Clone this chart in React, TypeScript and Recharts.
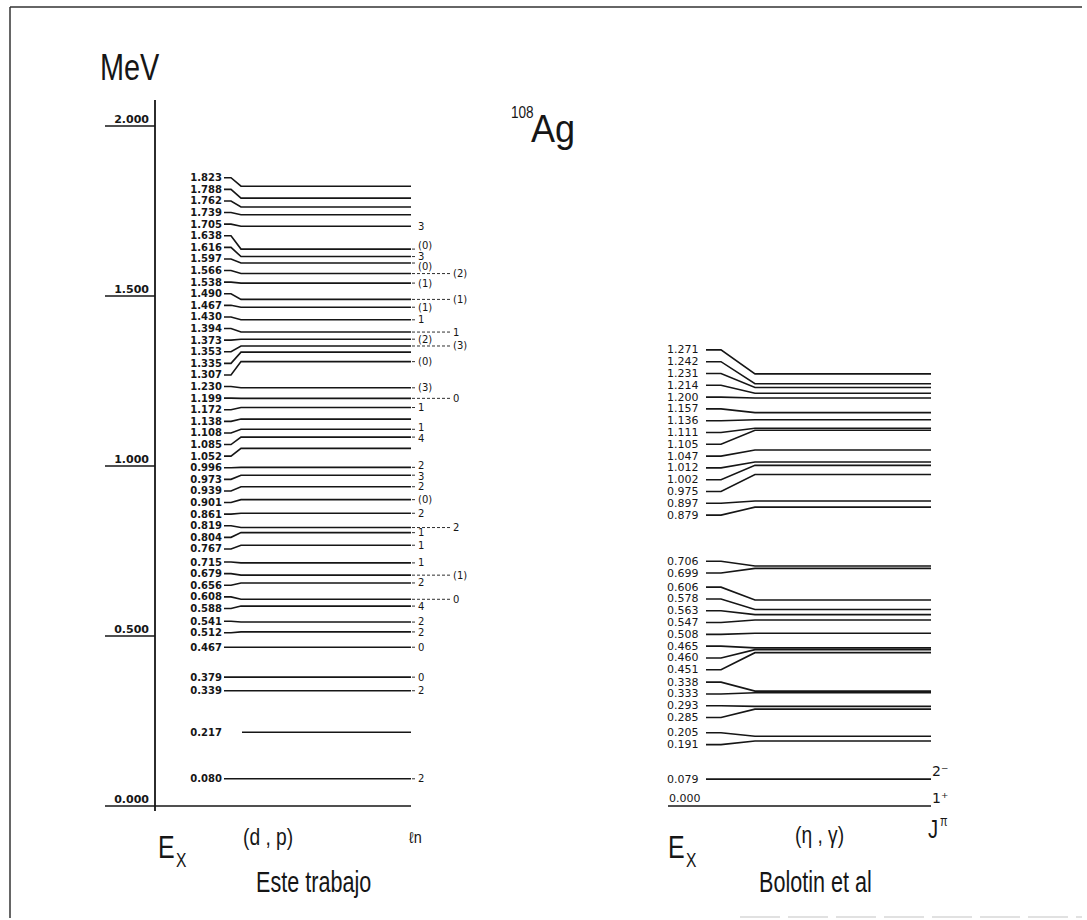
import React from "react";
import { ComposedChart, Line, Scatter, XAxis, YAxis } from "recharts";

// 108Ag level scheme: this work (d,p) vs Bolotin et al (n,gamma)
const energyTicks = [0, 0.5, 1.0, 1.5, 2.0];

const dpLevels = [
  1.823, 1.788, 1.762, 1.739, 1.705, 1.638, 1.616, 1.597, 1.566, 1.538,
  1.49, 1.467, 1.43, 1.394, 1.373, 1.353, 1.335, 1.307, 1.23, 1.199,
  1.172, 1.138, 1.108, 1.085, 1.052, 0.996, 0.973, 0.939, 0.901, 0.861,
  0.819, 0.804, 0.767, 0.715, 0.679, 0.656, 0.608, 0.588, 0.541, 0.512,
  0.467, 0.379, 0.339, 0.217, 0.08,
];
const dpLn = [
  "", "", "", "", "3", "(0)", "3", "(0)", "(2)", "(1)",
  "(1)", "(1)", "1", "1", "(2)", "(3)", "", "(0)", "(3)", "0",
  "1", "", "1", "4", "", "2", "3", "2", "(0)", "2",
  "2", "1", "1", "1", "(1)", "2", "0", "4", "2", "2",
  "0", "0", "2", "", "2",
];
// ln values written in the outer column
const outerLn = [1.566, 1.49, 1.394, 1.353, 1.199, 0.819, 0.679, 0.608];

const ngLevels = [
  1.271, 1.242, 1.231, 1.214, 1.2, 1.157, 1.136, 1.111, 1.105, 1.047,
  1.012, 1.002, 0.975, 0.897, 0.879, 0.706, 0.699, 0.606, 0.578, 0.563,
  0.547, 0.508, 0.465, 0.46, 0.451, 0.338, 0.333, 0.293, 0.285, 0.205,
  0.191, 0.079,
];
const spinLevels = [0.079, 0.0];
const spinLabels = ["2\u207B", "1\u207A"];

const W = 1087;
const H = 920;
const PX_PER_MEV = 340;
const INK = "#161616";
const NUM_FONT = "DejaVu Sans, Verdana, sans-serif";
const HAND_FONT = "Liberation Sans, Arial, sans-serif";

// push labels apart (least squares with a minimum gap, pool adjacent violators)
function spreadLabels(levels: number[], gap: number): number[] {
  const z = levels.map((e, i) => -e - i * gap);
  const blocks: { sum: number; n: number }[] = [];
  for (const v of z) {
    blocks.push({ sum: v, n: 1 });
    while (blocks.length > 1) {
      const b = blocks[blocks.length - 1];
      const a = blocks[blocks.length - 2];
      if (a.sum / a.n <= b.sum / b.n) break;
      a.sum += b.sum;
      a.n += b.n;
      blocks.pop();
    }
  }
  const w: number[] = [];
  blocks.forEach((b) => {
    for (let k = 0; k < b.n; k++) w.push(b.sum / b.n);
  });
  return w.map((v, i) => -(v + i * gap));
}

const dpLabelAt = spreadLabels(dpLevels, 11.6 / PX_PER_MEV);
const ngLabelAt = spreadLabels(ngLevels, 11.8 / PX_PER_MEV);

// ln labels: inner and outer columns, each nudged apart a little
const lnInner = dpLevels.filter((e, i) => dpLn[i] && !outerLn.includes(e));
const lnInnerAt = spreadLabels(lnInner, 10.5 / PX_PER_MEV);

const AxisTick = (props: any) => {
  const { x, y, payload } = props;
  return (
    <g>
      <line x1={x - 50} x2={x} y1={y} y2={y} stroke={INK} strokeWidth={1.5} />
      <text x={x - 6} y={y - 3} textAnchor="end" fontSize={11} fontWeight="bold" fontFamily={NUM_FONT} fill={INK}>
        {payload.value.toFixed(3)}
      </text>
    </g>
  );
};

const textShape = (anchor: string, size: number, weight: string, dy = 0) => (p: any) => (
  <text
    x={p.cx}
    y={p.cy + dy}
    textAnchor={anchor}
    dominantBaseline={dy === 0 ? "central" : "auto"}
    fontSize={size}
    fontWeight={weight}
    fontFamily={NUM_FONT}
    fill={INK}
  >
    {p.payload.text}
  </text>
);

function NText({ x, y, size, sx = 0.78, children }: any) {
  return (
    <text transform={`translate(${x} ${y}) scale(${sx} 1)`} fontSize={size} fontFamily={HAND_FONT} fill={INK}>
      {children}
    </text>
  );
}

export default function App() {
  const series: React.ReactNode[] = [];

  dpLevels.forEach((e, i) => {
    const lab = dpLabelAt[i];
    const pts =
      e === 0.217
        ? [{ x: 242, y: e }, { x: 411, y: e }]
        : [{ x: 224, y: lab }, { x: 231, y: lab }, { x: 241, y: e }, { x: 411, y: e }];
    series.push(
      <Line key={`dp${i}`} data={pts} dataKey="y" type="linear" stroke={INK} strokeWidth={1.6} dot={false} isAnimationActive={false} />
    );
    if (dpLn[i] && e !== 1.705) {
      const far = outerLn.includes(e);
      series.push(
        <Line
          key={`ln${i}`}
          data={[{ x: 412, y: e }, { x: far ? 451 : 416, y: e }]}
          dataKey="y"
          stroke={INK}
          strokeWidth={0.9}
          strokeDasharray="3 2"
          dot={false}
          isAnimationActive={false}
        />
      );
    }
  });

  ngLevels.forEach((e, i) => {
    const lab = ngLabelAt[i];
    const pts = [{ x: 706, y: lab }, { x: 721, y: lab }, { x: 755, y: e }, { x: 931, y: e }];
    series.push(
      <Line key={`ng${i}`} data={pts} dataKey="y" type="linear" stroke={INK} strokeWidth={1.6} dot={false} isAnimationActive={false} />
    );
  });

  const dpText = dpLevels.map((e, i) => ({ x: 222, y: dpLabelAt[i], text: e.toFixed(3) }));
  const lnText = dpLevels
    .map((e, i) => {
      const far = outerLn.includes(e);
      const k = lnInner.indexOf(e);
      return { x: far ? 453 : 418, y: far || k < 0 ? e : lnInnerAt[k], text: dpLn[i] };
    })
    .filter((d) => d.text);
  const ngText = ngLevels.map((e, i) => ({ x: 667, y: ngLabelAt[i], text: e.toFixed(3) }));
  const spinText = spinLevels.map((e, i) => ({ x: 932, y: e, text: spinLabels[i] }));
  const groundText = [{ x: 669, y: 0, text: (0).toFixed(3) }];

  return (
    <div style={{ position: "absolute", left: 0, top: 0, width: W, height: H, background: "#fff" }}>
      <ComposedChart width={W} height={H} margin={{ top: 100, right: 0, bottom: 109, left: 0 }}>
        <XAxis type="number" dataKey="x" domain={[155, W]} allowDataOverflow hide />
        <YAxis
          type="number"
          dataKey="y"
          domain={[-0.0147, 2.0765]}
          allowDataOverflow
          width={155}
          ticks={energyTicks}
          tick={<AxisTick />}
          tickSize={0}
          tickMargin={0}
          tickLine={false}
          axisLine={{ stroke: INK, strokeWidth: 1.8 }}
          interval={0}
        />
        <Line data={[{ x: 155, y: 0 }, { x: 411, y: 0 }]} dataKey="y" stroke={INK} strokeWidth={1.5} dot={false} isAnimationActive={false} />
        <Line data={[{ x: 668, y: 0 }, { x: 931, y: 0 }]} dataKey="y" stroke={INK} strokeWidth={1.5} dot={false} isAnimationActive={false} />
        {series}
        <Scatter data={dpText} shape={textShape("end", 10, "bold")} isAnimationActive={false} />
        <Scatter data={lnText} shape={textShape("start", 10, "normal")} isAnimationActive={false} />
        <Scatter data={ngText} shape={textShape("start", 11, "normal")} isAnimationActive={false} />
        <Scatter data={spinText} shape={textShape("start", 14, "normal", -3)} isAnimationActive={false} />
        <Scatter data={groundText} shape={textShape("start", 11, "normal", -4)} isAnimationActive={false} />
      </ComposedChart>

      <svg width={W} height={H} style={{ position: "absolute", left: 0, top: 0, pointerEvents: "none" }}>
        <line x1={10} x2={1082} y1={7} y2={7} stroke="#333" strokeWidth={1.5} />
        <line x1={10} x2={10} y1={7} y2={918} stroke="#333" strokeWidth={1.5} />
        <line x1={740} x2={1082} y1={917} y2={917} stroke="#c4c4c4" strokeWidth={1.2} strokeDasharray="40 8" />

        <NText x={100} y={80} size={37}>MeV</NText>
        <NText x={511} y={118} size={16} sx={0.85}>108</NText>
        <NText x={531} y={142} size={38} sx={0.95}>Ag</NText>

        <NText x={158} y={858} size={32}>E</NText>
        <NText x={176} y={867} size={20}>X</NText>
        <NText x={243} y={845} size={24} sx={0.8}>(d , p)</NText>
        <NText x={409} y={843} size={16} sx={0.9}>ℓn</NText>
        <NText x={256} y={892} size={30} sx={0.72}>Este trabajo</NText>

        <NText x={668} y={858} size={32}>E</NText>
        <NText x={686} y={867} size={20}>X</NText>
        <NText x={795} y={843} size={24} sx={0.8}>(η , γ)</NText>
        <NText x={928} y={838} size={26}>J</NText>
        <NText x={940} y={826} size={14}>π</NText>
        <NText x={759} y={892} size={30} sx={0.72}>Bolotin et al</NText>
      </svg>
    </div>
  );
}
